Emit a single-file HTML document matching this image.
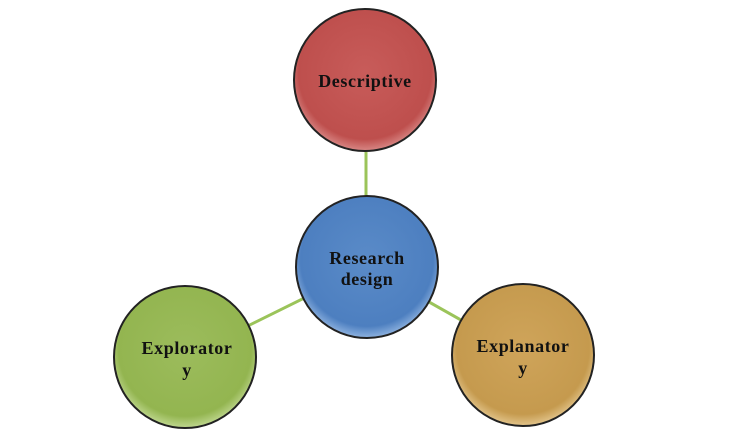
<!DOCTYPE html>
<html><head><meta charset="utf-8"><style>
html,body{margin:0;padding:0;background:#fff;width:730px;height:444px;overflow:hidden}
text{font-family:"Liberation Serif",serif;font-weight:bold;font-size:18px;letter-spacing:0.6px;fill:#111;text-anchor:middle}
</style></head><body>
<svg width="730" height="444" viewBox="0 0 730 444">
<defs>
<radialGradient id="r" cx="50%" cy="45%" r="55%"><stop offset="0" stop-color="#c85c5a"/><stop offset="0.85" stop-color="#be4f4d"/><stop offset="1" stop-color="#d98886"/></radialGradient>
<radialGradient id="b" cx="50%" cy="45%" r="55%"><stop offset="0" stop-color="#5a8bc8"/><stop offset="0.85" stop-color="#4d7fc0"/><stop offset="1" stop-color="#8fb3e0"/></radialGradient>
<radialGradient id="g" cx="50%" cy="45%" r="55%"><stop offset="0" stop-color="#9cbc5c"/><stop offset="0.85" stop-color="#93b550"/><stop offset="1" stop-color="#c0d890"/></radialGradient>
<radialGradient id="o" cx="50%" cy="45%" r="55%"><stop offset="0" stop-color="#cfa45a"/><stop offset="0.85" stop-color="#c59a4e"/><stop offset="1" stop-color="#e3c58c"/></radialGradient>
</defs>
<g stroke="#9bc45a" stroke-width="3">
<line x1="366" y1="152" x2="366" y2="197"/>
<line x1="185" y1="357" x2="367" y2="267"/>
<line x1="367" y1="267" x2="523" y2="355"/>
</g>
<g stroke="#222" stroke-width="2">
<circle cx="365" cy="80" r="71" fill="url(#r)"/>
<circle cx="367" cy="267" r="71" fill="url(#b)"/>
<circle cx="185" cy="357" r="71" fill="url(#g)"/>
<circle cx="523" cy="355" r="71" fill="url(#o)"/>
</g>
<text x="365" y="87">Descriptive</text>
<text x="367" y="264">Research</text>
<text x="367" y="285">design</text>
<text x="187" y="354">Explorator</text>
<text x="187" y="376">y</text>
<text x="523" y="352">Explanator</text>
<text x="523" y="374">y</text>
</svg>
</body></html>
